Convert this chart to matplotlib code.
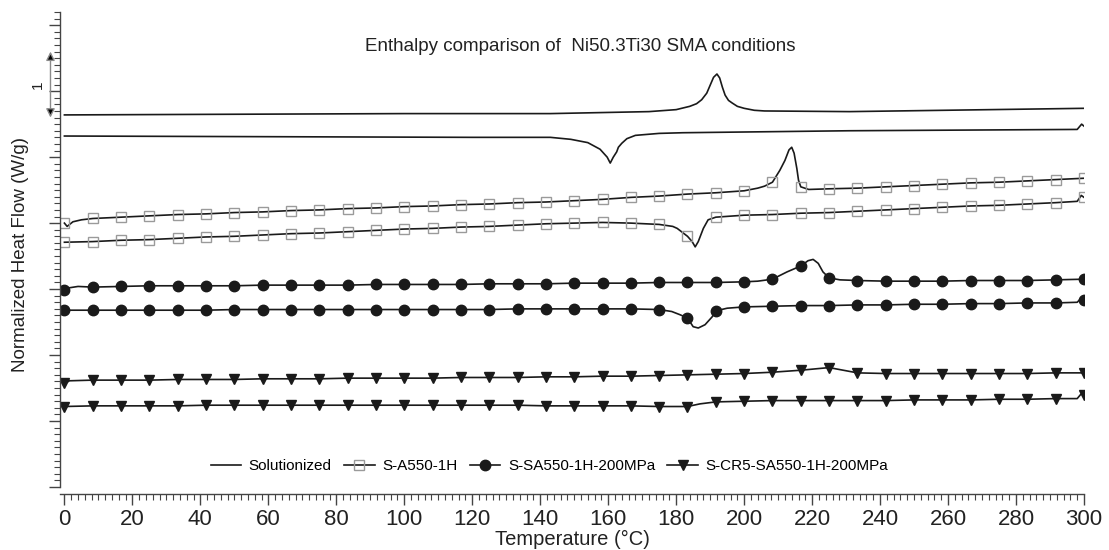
import numpy as np
import matplotlib
matplotlib.use("Agg")
import matplotlib.pyplot as plt
from matplotlib.ticker import MultipleLocator

plt.rcParams['font.family'] = ['Liberation Sans', 'DejaVu Sans']

# sample temperatures where the instrument markers sit (every 300/36 degC)
temp_marks = np.linspace(0, 300, 37)

# Solutionized: heating and cooling traces (no markers)
sol_heat_t = [0, 50, 100, 143, 172, 180, 184, 186, 187.5, 189, 190, 191, 192, 192.8,
              193.6, 194.4, 195.4, 196.5, 198, 200, 203, 206, 231, 300]
sol_heat = [5.64, 5.65, 5.66, 5.66, 5.69, 5.72, 5.77, 5.81, 5.87, 5.97, 6.09, 6.21, 6.26, 6.20,
            6.06, 5.94, 5.86, 5.82, 5.77, 5.74, 5.71, 5.70, 5.69, 5.74]
sol_cool_t = [0, 60, 120, 143, 149, 154, 157.6, 159.7, 160.6, 161.5, 162.5, 163, 164,
              165.5, 168, 175, 182, 231, 298, 299.3, 300]
sol_cool = [5.32, 5.31, 5.30, 5.30, 5.27, 5.22, 5.12, 5.00, 4.91, 5.00, 5.08, 5.15, 5.21,
            5.28, 5.33, 5.36, 5.37, 5.40, 5.42, 5.50, 5.47]

# S-A550-1H
sa_heat = [4.00, 4.07, 4.09, 4.11, 4.13, 4.14, 4.16, 4.17, 4.19, 4.20, 4.22, 4.23, 4.25,
           4.26, 4.28, 4.29, 4.31, 4.32, 4.34, 4.36, 4.39, 4.41, 4.44, 4.46, 4.49, 4.62,
           4.55, 4.52, 4.53, 4.55, 4.57, 4.59, 4.61, 4.62, 4.64, 4.66, 4.68]
sa_heat_xt = [0.8, 2.5, 5, 204, 206, 210.5, 212, 213.2, 214, 214.7, 215.5, 216, 219]
sa_heat_xv = [3.95, 4.02, 4.05, 4.53, 4.56, 4.80, 4.95, 5.11, 5.15, 5.06, 4.83, 4.65, 4.51]
sa_cool = [3.71, 3.72, 3.74, 3.75, 3.77, 3.79, 3.80, 3.82, 3.84, 3.85, 3.87, 3.89, 3.91,
           3.92, 3.94, 3.95, 3.97, 3.99, 4.00, 4.01, 4.00, 3.98, 3.80, 4.09, 4.12, 4.13,
           4.15, 4.16, 4.18, 4.20, 4.22, 4.24, 4.26, 4.27, 4.29, 4.31, 4.39]
sa_cool_xt = [179, 180.3, 184.7, 185.6, 186.5, 188, 189.4, 298, 299.2]
sa_cool_xv = [3.95, 3.92, 3.72, 3.64, 3.72, 3.92, 4.05, 4.33, 4.42]

# S-SA550-1H-200MPa
ssa_heat = [2.98, 3.03, 3.04, 3.05, 3.05, 3.05, 3.05, 3.06, 3.06, 3.06, 3.06, 3.07, 3.07,
            3.07, 3.07, 3.08, 3.08, 3.08, 3.09, 3.09, 3.09, 3.10, 3.10, 3.10, 3.11, 3.15,
            3.35, 3.17, 3.13, 3.12, 3.12, 3.12, 3.13, 3.13, 3.13, 3.14, 3.15]
ssa_heat_xt = [1.5, 4, 204, 212.6, 218.8, 220.3, 221.8, 223.2, 228.2]
ssa_heat_xv = [3.02, 3.04, 3.12, 3.26, 3.43, 3.45, 3.39, 3.26, 3.14]
ssa_cool = [2.68, 2.68, 2.68, 2.68, 2.68, 2.68, 2.69, 2.69, 2.69, 2.69, 2.69, 2.69, 2.69,
            2.69, 2.69, 2.69, 2.70, 2.70, 2.70, 2.70, 2.70, 2.69, 2.56, 2.67, 2.73, 2.74,
            2.75, 2.75, 2.76, 2.76, 2.77, 2.77, 2.78, 2.78, 2.79, 2.79, 2.83]
ssa_cool_xt = [178.7, 181.2, 185, 186.5, 188.5, 190.6, 195, 298, 299.3]
ssa_cool_xv = [2.66, 2.61, 2.43, 2.41, 2.46, 2.58, 2.71, 2.80, 2.87]

# S-CR5-SA550-1H-200MPa
cr_heat = [1.57, 1.62, 1.62, 1.62, 1.63, 1.63, 1.63, 1.64, 1.64, 1.64, 1.65, 1.65, 1.65,
           1.65, 1.66, 1.66, 1.66, 1.67, 1.67, 1.68, 1.68, 1.69, 1.70, 1.71, 1.72, 1.74,
           1.77, 1.81, 1.73, 1.72, 1.72, 1.72, 1.72, 1.72, 1.72, 1.73, 1.73]
cr_heat_xt = [1.5]
cr_heat_xv = [1.61]
cr_cool = [1.22, 1.23, 1.23, 1.23, 1.23, 1.24, 1.24, 1.24, 1.24, 1.24, 1.24, 1.24, 1.24,
           1.24, 1.24, 1.24, 1.24, 1.23, 1.23, 1.23, 1.23, 1.22, 1.22, 1.29, 1.30, 1.31,
           1.31, 1.31, 1.31, 1.31, 1.32, 1.32, 1.32, 1.33, 1.33, 1.34, 1.39]
cr_cool_xt = [187, 298, 299.3]
cr_cool_xv = [1.26, 1.34, 1.42]

labels = ['Solutionized', 'S-A550-1H', 'S-SA550-1H-200MPa', 'S-CR5-SA550-1H-200MPa']


def merge(base, extra_t, extra_v):
    # put the extra detail points between the marker samples, keep marker indices
    t = np.concatenate([temp_marks, extra_t])
    v = np.concatenate([base, extra_v])
    order = np.argsort(t, kind='stable')
    marks = list(np.where(order < len(temp_marks))[0])
    return t[order], v[order], marks


ink = '#1a1a1a'
fig = plt.figure(figsize=(11.09, 5.5), dpi=100)
ax = fig.add_axes([60 / 1109, 63 / 550, 1024 / 1109, 475 / 550])

ax.plot(sol_heat_t, sol_heat, color=ink, lw=1.2, label=labels[0])
ax.plot(sol_cool_t, sol_cool, color=ink, lw=1.2)

styles = [
    (dict(marker='s', ms=7.5, mfc='none', mec='#9a9a9a', mew=1.0),
     [(sa_heat, sa_heat_xt, sa_heat_xv), (sa_cool, sa_cool_xt, sa_cool_xv)]),
    (dict(marker='o', ms=7.5, mfc=ink, mec=ink),
     [(ssa_heat, ssa_heat_xt, ssa_heat_xv), (ssa_cool, ssa_cool_xt, ssa_cool_xv)]),
    (dict(marker='v', ms=7.5, mfc=ink, mec=ink),
     [(cr_heat, cr_heat_xt, cr_heat_xv), (cr_cool, cr_cool_xt, cr_cool_xv)]),
]
for i, (mk, curves) in enumerate(styles):
    for j, (base, xt, xv) in enumerate(curves):
        t, v, marks = merge(base, xt, xv)
        ax.plot(t, v, color=ink, lw=1.2, markevery=marks,
                label=labels[i + 1] if j == 0 else None, **mk)

ax.set_xlim(-1.3, 300)
ax.set_ylim(0, 7.2)

for side in ['top', 'right']:
    ax.spines[side].set_visible(False)
for side in ['left', 'bottom']:
    ax.spines[side].set_color('#444444')
    ax.spines[side].set_linewidth(1.0)
ax.spines['bottom'].set_position(('outward', 5))

ax.xaxis.set_major_locator(MultipleLocator(20))
ax.xaxis.set_minor_locator(MultipleLocator(2))
ax.yaxis.set_major_locator(MultipleLocator(1))
ax.yaxis.set_minor_locator(MultipleLocator(0.1))
ax.tick_params(axis='both', which='major', direction='out', length=8, width=1,
               color='#444444', labelsize=16, labelcolor='#222222', pad=3)
ax.tick_params(axis='both', which='minor', direction='out', length=4, width=0.8,
               color='#444444')
ax.tick_params(axis='y', which='both', labelleft=False)

ax.set_xlabel('Temperature (\u00b0C)', fontsize=14.5, color='#222222', labelpad=0)
ax.set_ylabel('Normalized Heat Flow (W/g)', fontsize=13.5, color='#222222')
ax.yaxis.set_label_coords(-0.03, 0.49)

ax.text(0.508, 0.928, 'Enthalpy comparison of  Ni50.3Ti30 SMA conditions',
        transform=ax.transAxes, ha='center', va='center', fontsize=13.5, color='#222222')

# 1 W/g scale bar left of the axis
ax.annotate('', xy=(-4.1, 6.6), xytext=(-4.1, 5.6), annotation_clip=False,
            arrowprops=dict(arrowstyle='<|-|>', ec='#8a8a8a', fc='black', lw=1,
                            mutation_scale=13, shrinkA=0, shrinkB=0))
ax.text(-7.9, 6.1, '1', rotation=90, ha='center', va='center', fontsize=11,
        color='#222222', clip_on=False)

ax.legend(loc='center', bbox_to_anchor=(0.478, 0.044), ncol=4, frameon=False,
          fontsize=11, handlelength=2.0, handletextpad=0.5, columnspacing=0.8)

fig.savefig('out.png', dpi=100)
